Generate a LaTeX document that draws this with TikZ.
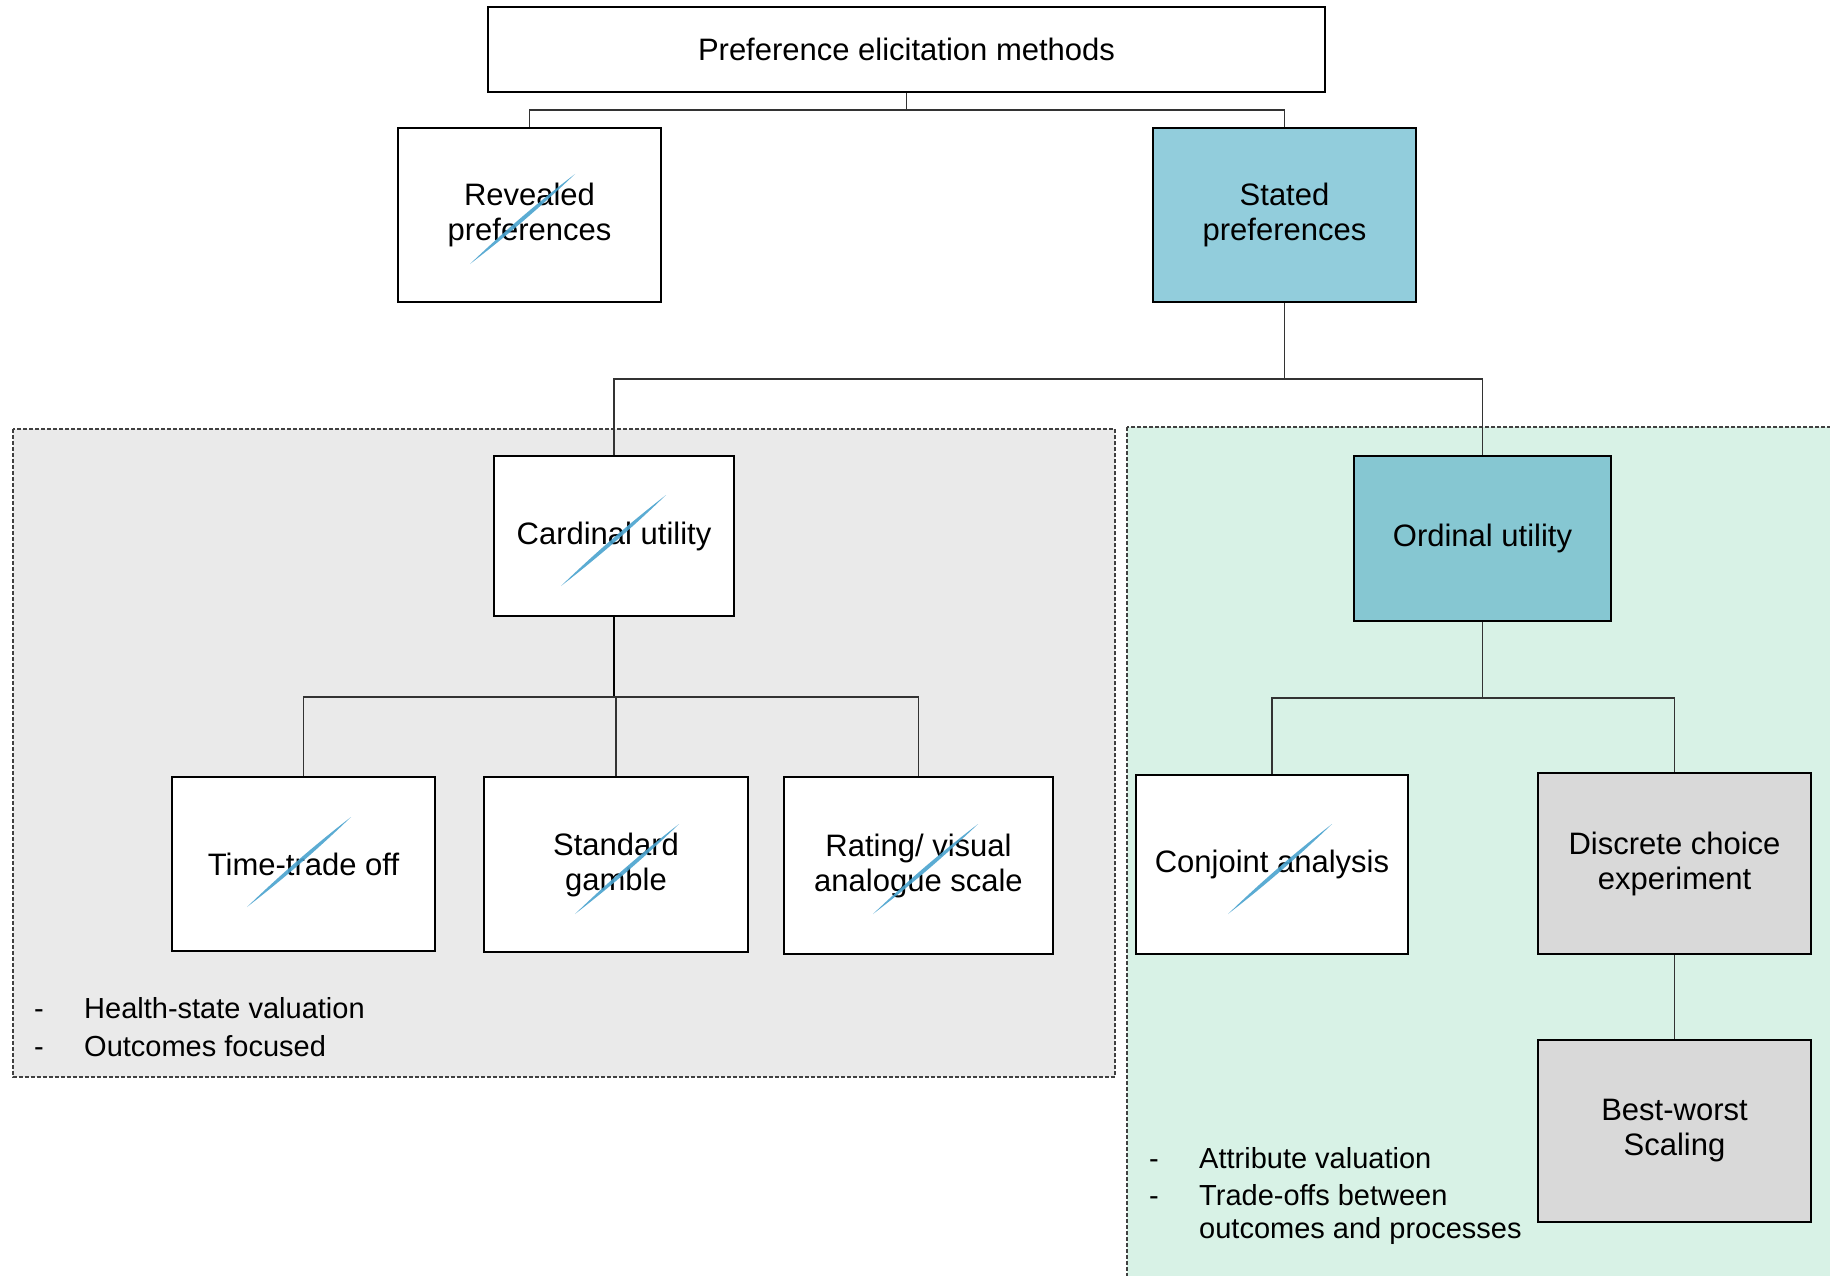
\documentclass[tikz,border=0pt]{standalone}
\usepackage{fontspec}
\setmainfont{Liberation Sans}
\usetikzlibrary{calc}
\definecolor{statedfill}{HTML}{92CDDC}
\definecolor{ordfill}{HTML}{86C7D2}
\definecolor{cardzone}{HTML}{EAEAEA}
\definecolor{ordzone}{HTML}{D8F2E6}
\definecolor{greyfill}{HTML}{D9D9D9}
\definecolor{zoneline}{HTML}{404040}
\definecolor{linkgrey}{HTML}{333333}
\definecolor{strokeblue}{HTML}{4AA3CF}
\tikzset{
  box/.style={draw=black, line width=2.4pt, fill=white, align=center, inner sep=0pt,
    font=\fontsize{31}{35}\selectfont},
  link/.style={draw=linkgrey, line width=1.4pt},
  zone/.style={draw=zoneline, line width=1.1pt, dash pattern=on 4pt off 2pt},
  bullets/.style={anchor=west, inner sep=0pt, font=\fontsize{29}{36}\selectfont},
  dashmark/.style={anchor=base, inner sep=0pt, font=\fontsize{29}{36}\selectfont},
}
% tapered blue pen stroke between two points
\newcommand{\penstroke}[2]{%
  \fill[strokeblue, opacity=0.9]
    #1 .. controls ($#1!0.35!#2!2.6pt!90:#2$) and ($#1!0.65!#2!2.6pt!90:#2$) .. #2
       .. controls ($#2!0.35!#1!2.6pt!90:#1$) and ($#2!0.65!#1!2.6pt!90:#1$) .. #1 -- cycle;}
\begin{document}
\begin{tikzpicture}[x=1pt, y=-1pt]
\useasboundingbox (0,0) rectangle (1830,1276);
\begin{scope}
\clip (0,0) rectangle (1830,1276);
% shaded zones
\path[zone, fill=cardzone] (13,429) rectangle (1115,1077);
\path[zone, fill=ordzone] (1127,427) rectangle (1840,1290);
\end{scope}

% boxes
\node[box, minimum width=837, minimum height=85] (top) at (906.5,49.5) {Preference elicitation methods};
\node[box, minimum width=263, minimum height=174] (rev) at (529.5,215) {Revealed\\preferences};
\node[box, minimum width=263, minimum height=174, fill=statedfill] (stated) at (1284.5,215) {Stated\\preferences};
\node[box, minimum width=240, minimum height=160] (card) at (614,536) {Cardinal utility};
\node[box, minimum width=257, minimum height=165, fill=ordfill] (ord) at (1482.5,538.5) {Ordinal utility};
\node[box, minimum width=263, minimum height=174] (tto) at (303.5,864) {Time-trade off};
\node[box, minimum width=264, minimum height=175] (sg) at (616,864.5) {Standard\\gamble};
\node[box, minimum width=269, minimum height=177] (vas) at (918.5,865.5) {Rating/ visual\\analogue scale};
\node[box, minimum width=272, minimum height=179] (conj) at (1272,864.5) {Conjoint analysis};
\node[box, minimum width=273, minimum height=181, fill=greyfill] (dce) at (1674.5,863.5) {Discrete choice\\experiment};
\node[box, minimum width=273, minimum height=182, fill=greyfill] (bws) at (1674.5,1131) {Best-worst\\Scaling};

% junction points of the tree
\coordinate (j1) at (906.5,110);
\coordinate (j2) at (1284.5,379);
\coordinate (j3) at (614,697);
\coordinate (j4) at (1482.5,698);

% connectors
\draw[link] (top.south) -- (j1);
\draw[link] (rev.north) |- (j1) -| (stated.north);
\draw[link] (stated.south) -- (j2);
\draw[link] (card.north) |- (j2) -| (ord.north);
\draw[link, draw=black, line width=2.2pt] (card.south) -- (j3);
\draw[link] (tto.north) |- (j3) -| (vas.north);
\draw[link] (sg.north) -- (sg.north |- j3);
\draw[link] (ord.south) -- (j4);
\draw[link] (conj.north) |- (j4) -| (dce.north);
\draw[link] (dce.south) -- (bws.north);

% pen strokes across boxes
\penstroke{(470,264)}{(575,174)}
\penstroke{(561,586)}{(666,495)}
\penstroke{(247,907)}{(351,817)}
\penstroke{(575,914)}{(679,824)}
\penstroke{(873,914)}{(978,824)}
\penstroke{(1228,914)}{(1332,824)}

% notes in the zones
\node[bullets] (hs) at (84,1008) {Health-state valuation};
\node[bullets] (of) at (84,1046) {Outcomes focused};
\node[dashmark] (d1) at ([xshift=-45pt]hs.base west) {-};
\node[dashmark] (d2) at ([xshift=-45pt]of.base west) {-};
\node[bullets] (av) at (1199,1158) {Attribute valuation};
\node[bullets] (to) at (1199,1195) {Trade-offs between};
\node[bullets] (op) at (1199,1231) {outcomes and processes};
\node[dashmark] (d3) at ([xshift=-45pt]av.base west) {-};
\node[dashmark] (d4) at ([xshift=-45pt]to.base west) {-};
\end{tikzpicture}
\end{document}
